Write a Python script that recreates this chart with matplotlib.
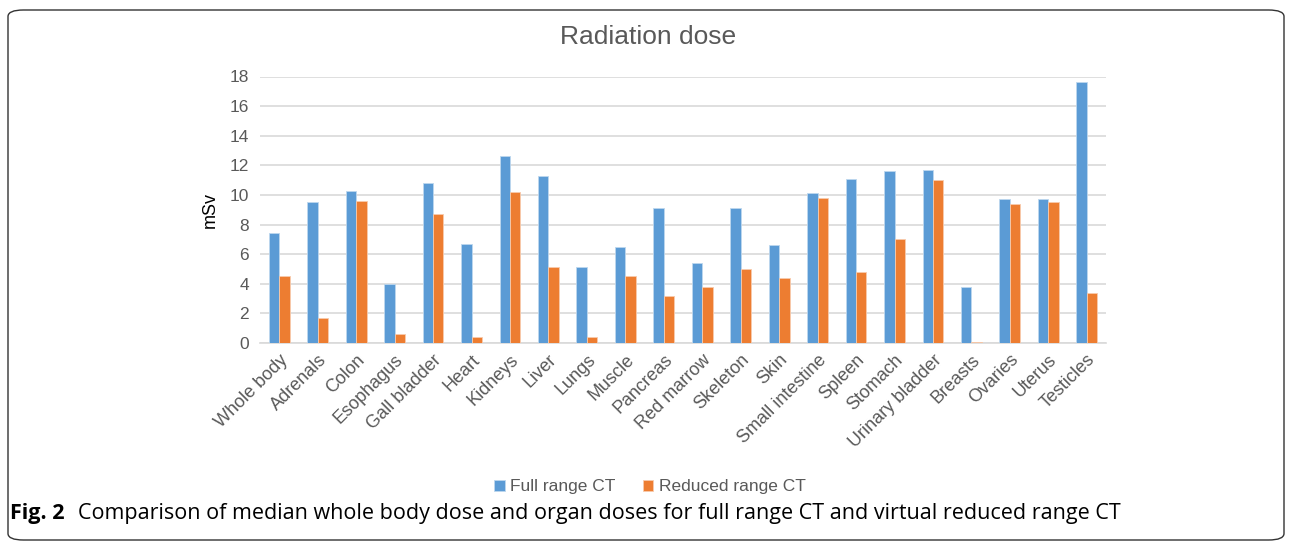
import numpy as np
import matplotlib.pyplot as plt
from matplotlib.patches import FancyBboxPatch

organs = ["Whole body", "Adrenals", "Colon", "Esophagus", "Gall bladder", "Heart",
          "Kidneys", "Liver", "Lungs", "Muscle", "Pancreas", "Red marrow", "Skeleton",
          "Skin", "Small intestine", "Spleen", "Stomach", "Urinary bladder", "Breasts",
          "Ovaries", "Uterus", "Testicles"]
full_range = [7.4, 9.5, 10.3, 4.0, 10.8, 6.7, 12.6, 11.3, 5.1, 6.5, 9.1, 5.4, 9.1,
              6.6, 10.1, 11.1, 11.6, 11.7, 3.8, 9.7, 9.7, 17.6]
reduced_range = [4.5, 1.7, 9.6, 0.6, 8.7, 0.4, 10.2, 5.1, 0.4, 4.5, 3.2, 3.8, 5.0,
                 4.4, 9.8, 4.8, 7.0, 11.0, 0.1, 9.4, 9.5, 3.4]
y_ticks = [0, 2, 4, 6, 8, 10, 12, 14, 16, 18]

plt.rcParams['font.family'] = ['Liberation Sans', 'DejaVu Sans']

fig = plt.figure(figsize=(12.92, 5.42), dpi=100)
ax = fig.add_axes([260 / 1292, 1 - 343 / 542, (1106 - 260) / 1292, (343 - 76.5) / 542])

x = np.arange(len(organs))
w = 0.27
ax.bar(x - w / 2, full_range, w, color='#5B9BD5', edgecolor='#BDD7EE', linewidth=0.6,
       label='Full range CT', zorder=3)
ax.bar(x + w / 2, reduced_range, w, color='#ED7D31', edgecolor='#F8CBAD', linewidth=0.6,
       label='Reduced range CT', zorder=3)

ax.set_xlim(-0.5, len(organs) - 0.5)
ax.set_ylim(0, 18)
ax.set_yticks(y_ticks)
ax.set_yticklabels([str(v) for v in y_ticks], fontsize=12.5, color='#595959')
ax.set_xticks(x)
ax.set_xticklabels(organs, rotation=45, ha='right', rotation_mode='anchor',
                   fontsize=13, color='#595959')
ax.tick_params(length=0, pad=8)
ax.tick_params(axis='x', pad=6)
ax.yaxis.grid(True, color='#D9D9D9', linewidth=1.2, zorder=0)
ax.set_axisbelow(True)
for s in ['top', 'right', 'left']:
    ax.spines[s].set_visible(False)
ax.spines['bottom'].set_color('#D9D9D9')
ax.spines['bottom'].set_linewidth(1.2)
ax.set_ylabel('mSv', fontsize=13, color='black', labelpad=8)

fig.text(0.5015, 1 - 37 / 542, 'Radiation dose', ha='center', va='center',
         fontsize=19, color='#595959')

fig.legend(loc='center', bbox_to_anchor=(0.503, 1 - 487 / 542), ncol=2, frameon=False,
           fontsize=12.5, handlelength=0.6, handleheight=0.6, handletextpad=0.3,
           columnspacing=1.6, labelcolor='#595959')

fig.text(10 / 1292, 1 - 514 / 542, 'Fig. 2', ha='left', va='center', fontsize=15.5,
         fontweight='bold', family=['Open Sans', 'DejaVu Sans'], stretch='normal')
fig.text(78 / 1292, 1 - 514 / 542,
         'Comparison of median whole body dose and organ doses for full range CT and virtual reduced range CT',
         ha='left', va='center', fontsize=15.5, family=['Open Sans', 'DejaVu Sans'],
         stretch='normal')

box = FancyBboxPatch((8 / 1292, 2 / 542), 1276 / 1292, 530 / 542,
                     boxstyle='round,pad=0,rounding_size=0.012', transform=fig.transFigure,
                     fill=False, edgecolor='#333333', linewidth=1.0)
fig.patches.append(box)

fig.savefig('out.png', dpi=100)
